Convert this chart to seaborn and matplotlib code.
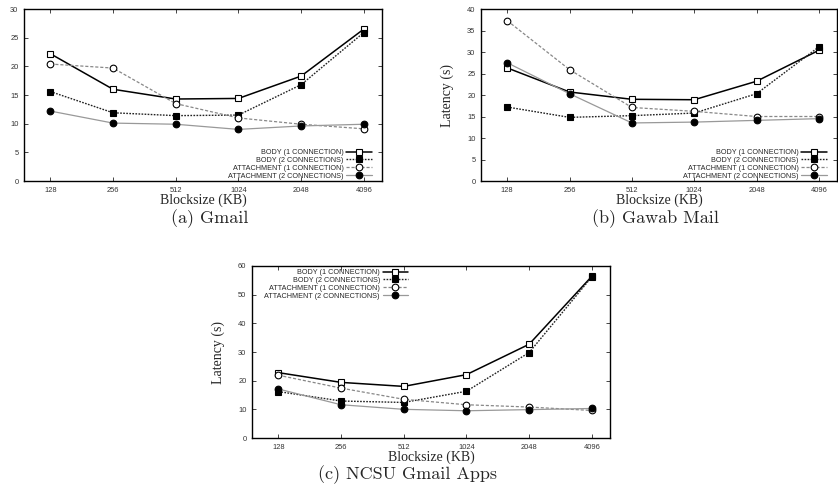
import numpy as np
import pandas as pd
import matplotlib
matplotlib.use("Agg")
import matplotlib.pyplot as plt
import seaborn as sns

# Valores
blocksizes = ["128", "256", "512", "1024", "2048", "4096"]
series = ["BODY (1 CONNECTION)", "BODY (2 CONNECTIONS)",
          "ATTACHMENT (1 CONNECTION)", "ATTACHMENT (2 CONNECTIONS)"]

gmail_body1 = [22.2, 16.0, 14.3, 14.4, 18.3, 26.5]
gmail_body2 = [15.6, 11.9, 11.4, 11.5, 16.8, 25.9]
gmail_att1 = [20.4, 19.7, 13.5, 11.0, 9.9, 9.1]
gmail_att2 = [12.2, 10.1, 9.9, 9.0, 9.6, 9.9]

gawab_body1 = [26.3, 20.7, 19.0, 18.9, 23.2, 30.4]
gawab_body2 = [17.2, 14.8, 15.2, 15.8, 20.3, 31.2]
gawab_att1 = [37.3, 25.9, 17.1, 16.2, 15.0, 15.0]
gawab_att2 = [27.5, 20.3, 13.5, 13.7, 14.1, 14.5]

ncsu_body1 = [22.8, 19.4, 18.0, 22.1, 32.7, 56.4]
ncsu_body2 = [16.2, 12.9, 12.4, 16.3, 29.8, 56.2]
ncsu_att1 = [21.9, 17.4, 13.5, 11.6, 10.8, 9.6]
ncsu_att2 = [17.1, 11.6, 10.0, 9.5, 9.9, 10.3]

paineis = [
    ("(a) Gmail", [gmail_body1, gmail_body2, gmail_att1, gmail_att2], 30, 5),
    ("(b) Gawab Mail", [gawab_body1, gawab_body2, gawab_att1, gawab_att2], 40, 5),
    ("(c) NCSU Gmail Apps", [ncsu_body1, ncsu_body2, ncsu_att1, ncsu_att2], 60, 10),
]

# Estilo de cada série (estilo gnuplot)
estilos = [
    dict(color="black", linestyle="-", linewidth=1.1, marker="s", mfc="white", mec="black"),
    dict(color="#222222", linestyle=(0, (1.2, 1.0)), linewidth=1.0, marker="s", mfc="black", mec="black"),
    dict(color="#888888", linestyle=(0, (2.5, 1.5)), linewidth=0.9, marker="o", mfc="white", mec="black"),
    dict(color="#999999", linestyle="-", linewidth=0.9, marker="o", mfc="black", mec="black"),
]

sns.set_style("ticks")
plt.rcParams["font.family"] = ["Liberation Sans", "DejaVu Sans"]

W, H = 838, 486
fig = plt.figure(figsize=(W / 100, H / 100), dpi=100)

# posições (esquerda, topo, direita, base) em pixels
caixas = [(24, 9, 382, 181), (481, 9, 837, 181), (252, 266, 610, 438)]
legendas = [("lower right", (0.975, 0.0)), ("lower right", (0.975, 0.0)), ("upper right", (0.44, 0.99))]
legenda_titulo = [(210, 219), (655, 219), (407, 475)]

x_idx = np.arange(len(blocksizes))

for (titulo, dados, ymax, ystep), (l, t, r, b), (loc, bba), (cx, cy) in zip(paineis, caixas, legendas, legenda_titulo):
    ax = fig.add_axes([l / W, 1 - b / H, (r - l) / W, (b - t) / H])
    df = pd.DataFrame({"x": np.tile(x_idx, 4),
                       "y": np.concatenate(dados),
                       "serie": np.repeat(series, len(blocksizes))})
    for nome, est in zip(series, estilos):
        sub = df[df["serie"] == nome]
        sns.lineplot(data=sub, x="x", y="y", ax=ax, label=nome, markersize=4.8,
                     markeredgewidth=0.8, **est)
    ax.set_xlim(-0.42, 5.29)
    ax.set_ylim(0, ymax)
    ax.set_xticks(x_idx)
    ax.set_xticklabels(blocksizes)
    ax.set_yticks(np.arange(0, ymax + 1, ystep))
    ax.tick_params(direction="in", top=True, right=True, labelsize=5.4, length=3,
                   width=0.6, pad=4, labelcolor="#333333")
    for s in ax.spines.values():
        s.set_linewidth(1.0)
        s.set_color("black")
    ax.set_xlabel("Blocksize (KB)", family="Liberation Serif", fontsize=10, labelpad=0)
    ax.set_ylabel("Latency (s)", family="Liberation Serif", fontsize=10)
    ax.yaxis.set_label_coords(-0.075, 0.5)
    ax.legend(loc=loc, bbox_to_anchor=bba, frameon=False, fontsize=5.2, markerfirst=False,
              handlelength=3.5, handletextpad=0.4, labelspacing=0.1, borderpad=0.2,
              borderaxespad=0)
    fig.text(cx / W, 1 - cy / H, titulo, family=["cmr10", "DejaVu Serif"], fontsize=13,
             ha="center", va="center")

fig.savefig("out.png", dpi=100)
